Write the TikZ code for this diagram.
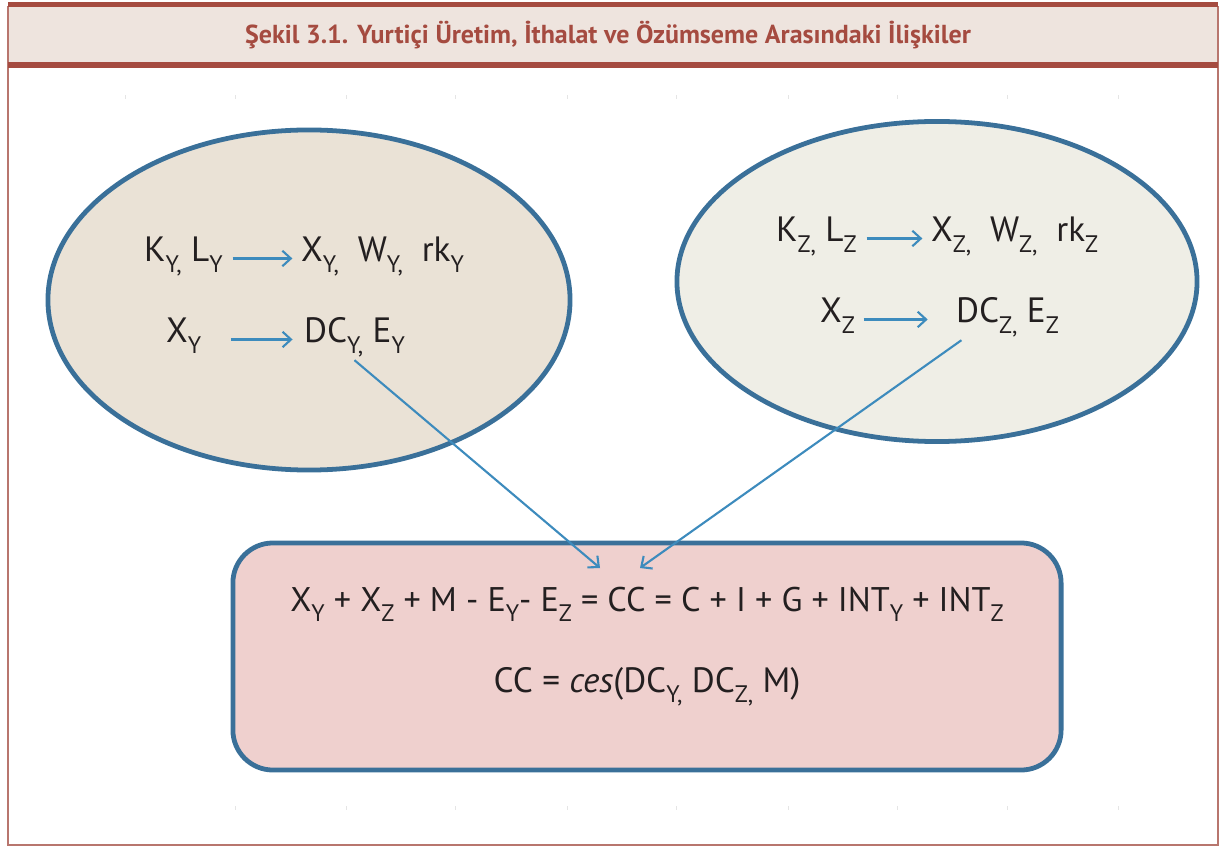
\documentclass[tikz,border=0pt]{standalone}
\usepackage{fontspec}
\setmainfont{PT Sans}
\usetikzlibrary{shapes.geometric,arrows.meta}
\definecolor{barred}{HTML}{A54B40}
\definecolor{framered}{HTML}{B8766E}
\definecolor{titlefill}{HTML}{EEE4DE}
\definecolor{rimblue}{HTML}{3A7099}
\definecolor{arrblue}{HTML}{3D8BBD}
\definecolor{fillY}{HTML}{EAE2D6}
\definecolor{fillZ}{HTML}{EFEEE6}
\definecolor{fillbox}{HTML}{EFD0CE}
\definecolor{ink}{HTML}{231F20}
% lowered subscript in text
\newcommand{\lw}[1]{\raisebox{-0.3em}{\fontsize{17}{17}\selectfont #1}}

\begin{document}
\begin{tikzpicture}[x=0.025cm,y=-0.025cm,
    eqtext/.style={text=ink,font=\fontsize{25}{30}\selectfont,inner sep=2pt},
    blob/.style={ellipse,draw=rimblue,line width=3.4pt},
    flow/.style={draw=arrblue,line width=1.5pt,-{Straight Barb[length=6pt,width=11pt]}}]
  \useasboundingbox (0,0) rectangle (1224,846);

  % frame and title
  \fill[titlefill] (8,6) rectangle (1218,63);
  \draw[framered,line width=1.4pt] (8,6) -- (8,845) -- (1218,845) -- (1218,6);
  \draw[barred,line width=3.6pt] (8,4.5) -- (1218,4.5);
  \draw[barred,line width=3.6pt] (8,65) -- (1218,65);
  \node[text=barred,font=\fontsize{18.5}{22}\selectfont\bfseries] (title) at (608,35)
    {Şekil 3.1. Yurtiçi Üretim, İthalat ve Özümseme Arasındaki İlişkiler};

  \foreach \x in {125,235,346,455,567,676,788,897,1007,1118}
    \draw[black!10,line width=0.3pt] (\x,95) -- (\x,99);
  \foreach \x in {235,346,455,567,676,788,897,1007,1118}
    \draw[black!10,line width=0.3pt] (\x,806) -- (\x,810);

  % the two regions
  \node[blob,fill=fillY,minimum width=13.05cm,minimum height=8.5cm] (ely) at (309,300) {};
  \node[blob,fill=fillZ,minimum width=13cm,minimum height=8cm] (elz) at (937,281.5) {};

  \node[eqtext,anchor=base west] (kly) at (141,262) {K\lw{Y,} L\lw{Y}};
  \node[eqtext,anchor=base west] (xwy) at (298,262) {X\lw{Y,}\ \ W\lw{Y,}\ \ rk\lw{Y}};
  \node[eqtext,anchor=base west] (xy) at (163,343) {X\lw{Y}};
  \node[eqtext,anchor=base west] (dcy) at (301,343) {DC\lw{Y,} E\lw{Y}};
  \draw[flow,shorten <=5pt,shorten >=4pt] (kly.mid east) -- (xwy.mid west);
  \draw[flow,shorten <=19pt,shorten >=6pt] (xy.mid east) -- (dcy.mid west);

  \node[eqtext,anchor=base west] (klz) at (773,242) {K\lw{Z,} L\lw{Z}};
  \node[eqtext,anchor=base west] (xwz) at (928,242) {X\lw{Z,}\ \ W\lw{Z,}\ \ rk\lw{Z}};
  \node[eqtext,anchor=base west] (xz) at (817,323) {X\lw{Z}};
  \node[eqtext,anchor=base west] (dcz) at (953,323) {DC\lw{Z,} E\lw{Z}};
  \draw[flow,shorten <=5pt,shorten >=4pt] (klz.mid east) -- (xwz.mid west);
  \draw[flow,shorten <=4pt,shorten >=18pt] (xz.mid east) -- (dcz.mid west);

  % aggregate box
  \node[draw=rimblue,line width=3.4pt,fill=fillbox,rounded corners=1cm,
    minimum width=20.7cm,minimum height=5.675cm] (box) at (647,656.5) {};
  \node[eqtext,anchor=base,font=\fontsize{24.3}{30}\selectfont] (ccsum) at (647,611)
    {X\lw{Y} + X\lw{Z} + M - E\lw{Y}- E\lw{Z} = CC = C + I + G + INT\lw{Y} + INT\lw{Z}};
  \node[eqtext,anchor=base] (cces) at (647,692) {CC = \textit{ces}(DC\lw{Y,} DC\lw{Z,} M)};

  \coordinate (tipY) at (600,568);
  \coordinate (tipZ) at (640,568);
  \draw[flow] (dcy.south) -- (tipY);
  \draw[flow] ([xshift=6pt]dcz.south west) -- (tipZ);
\end{tikzpicture}
\end{document}
